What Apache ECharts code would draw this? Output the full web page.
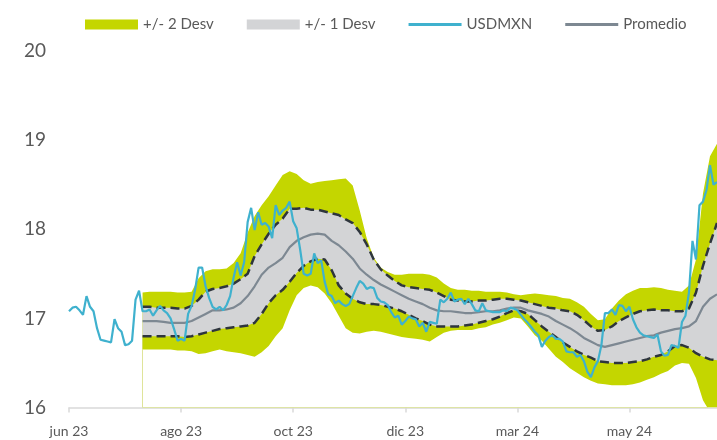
<!DOCTYPE html>
<html><head><meta charset="utf-8">
<script src="https://cdn.jsdelivr.net/npm/echarts@6/dist/echarts.min.js"></script>
<style>html,body{margin:0;padding:0;background:#fff}#c{width:717px;height:440px}</style>
</head><body><div id="c"></div>
<script>
// x positions are trading-day indices; one tick label every 32 days
const tickLabels = ['jun 23', 'ago 23', 'oct 23', 'dic 23', 'mar 24', 'may 24'];
const tickStep = 32;
const lastDay = 185;

// USDMXN daily close (index 0..185)
const usdmxn = [
  17.08,17.12,17.13,17.09,17.04,17.25,17.13,17.08,16.89,16.76,
  16.75,16.74,16.73,16.99,16.89,16.85,16.70,16.71,16.75,17.21,
  17.31,17.08,17.08,17.10,17.03,17.09,17.14,17.09,17.06,17.00,
  16.88,16.75,16.77,16.75,17.05,17.14,17.32,17.57,17.57,17.36,
  17.23,17.13,17.10,17.13,17.09,17.15,17.25,17.46,17.63,17.48,
  17.63,18.08,18.24,17.99,18.19,18.05,18.07,18.03,17.90,18.27,
  18.16,18.21,18.24,18.31,18.09,18.01,17.77,17.50,17.48,17.50,
  17.73,17.62,17.65,17.41,17.27,17.25,17.17,17.20,17.16,17.14,
  17.16,17.25,17.34,17.42,17.39,17.33,17.35,17.34,17.23,17.19,
  17.18,17.15,17.07,17.01,17.03,16.93,16.97,17.02,17.00,16.99,
  16.91,16.95,16.85,16.96,16.95,16.94,17.21,17.18,17.22,17.29,
  17.19,17.21,17.22,17.16,17.22,17.16,17.09,17.08,17.17,17.09,
  17.08,17.07,17.07,17.07,17.09,17.08,17.12,17.11,17.09,17.04,
  16.99,16.95,16.90,16.85,16.81,16.68,16.75,16.79,16.81,16.77,
  16.77,16.74,16.63,16.62,16.62,16.57,16.59,16.52,16.40,16.34,
  16.45,16.52,16.70,17.06,17.06,17.10,17.04,17.15,17.14,17.08,
  17.13,16.99,16.90,16.84,16.81,16.80,16.79,16.78,16.82,16.63,
  16.58,16.59,16.70,16.69,16.67,16.96,17.03,17.29,17.87,17.66,
  18.27,18.31,18.44,18.72,18.50,18.53
];

// Bands: start at day 21, one value every 2 days
const bandStart = 21;
const bandStep = 2;
const mean = [
  16.97,16.97,16.97,16.96,16.95,16.95,16.95,16.97,17.01,17.05,
  17.09,17.09,17.10,17.12,17.17,17.25,17.36,17.49,17.57,17.62,
  17.68,17.80,17.87,17.91,17.94,17.95,17.94,17.87,17.82,17.75,
  17.67,17.56,17.49,17.43,17.38,17.34,17.30,17.26,17.22,17.19,
  17.16,17.12,17.09,17.08,17.08,17.07,17.06,17.06,17.07,17.08,
  17.08,17.09,17.11,17.12,17.12,17.09,17.07,17.05,17.02,16.97,
  16.93,16.89,16.84,16.78,16.74,16.70,16.68,16.70,16.72,16.74,
  16.76,16.78,16.80,16.81,16.84,16.86,16.88,16.89,16.91,16.97,
  17.13,17.22,17.27
];
const upperOne = [
  17.13,17.13,17.12,17.12,17.12,17.11,17.11,17.14,17.21,17.30,
  17.33,17.34,17.36,17.39,17.44,17.50,17.70,17.83,17.95,18.05,
  18.12,18.23,18.23,18.24,18.22,18.22,18.20,18.18,18.16,18.11,
  18.07,17.97,17.83,17.66,17.55,17.48,17.42,17.37,17.35,17.34,
  17.33,17.32,17.29,17.25,17.21,17.20,17.19,17.19,17.20,17.20,
  17.21,17.22,17.22,17.21,17.20,17.18,17.16,17.14,17.12,17.11,
  17.09,17.08,17.04,16.98,16.91,16.86,16.87,16.91,16.97,17.01,
  17.05,17.08,17.09,17.10,17.09,17.09,17.08,17.08,17.11,17.29,
  17.59,17.84,18.07
];
const lowerOne = [
  16.80,16.80,16.80,16.80,16.80,16.80,16.79,16.80,16.82,16.84,
  16.86,16.88,16.89,16.90,16.91,16.92,16.95,17.05,17.17,17.26,
  17.32,17.41,17.51,17.59,17.64,17.67,17.66,17.54,17.37,17.28,
  17.22,17.18,17.16,17.16,17.15,17.13,17.11,17.08,17.04,17.00,
  16.97,16.93,16.91,16.91,16.91,16.91,16.92,16.93,16.95,16.97,
  16.99,17.02,17.06,17.09,17.08,17.05,16.98,16.91,16.85,16.79,
  16.73,16.68,16.63,16.59,16.56,16.52,16.51,16.50,16.50,16.50,
  16.51,16.52,16.54,16.57,16.59,16.63,16.69,16.70,16.67,16.61,
  16.57,16.54,16.53
];
const upperTwo = [
  17.29,17.30,17.30,17.30,17.30,17.29,17.29,17.30,17.45,17.53,
  17.55,17.55,17.56,17.62,17.73,17.96,18.15,18.27,18.37,18.49,
  18.61,18.65,18.62,18.55,18.51,18.53,18.54,18.55,18.56,18.57,
  18.49,18.21,17.90,17.68,17.57,17.52,17.49,17.49,17.50,17.50,
  17.50,17.49,17.46,17.39,17.34,17.32,17.32,17.31,17.31,17.30,
  17.30,17.30,17.29,17.27,17.26,17.27,17.28,17.27,17.26,17.25,
  17.23,17.22,17.18,17.13,17.05,16.98,16.99,17.11,17.20,17.27,
  17.31,17.34,17.34,17.35,17.34,17.32,17.31,17.30,17.37,17.66,
  18.40,18.82,18.96
];
const lowerTwo = [
  16.65,16.65,16.65,16.65,16.65,16.64,16.64,16.63,16.60,16.61,
  16.63,16.65,16.63,16.62,16.61,16.59,16.57,16.62,16.69,16.80,
  16.89,17.09,17.26,17.34,17.37,17.35,17.28,17.17,17.03,16.89,
  16.84,16.83,16.85,16.86,16.85,16.83,16.81,16.79,16.78,16.77,
  16.76,16.74,16.79,16.84,16.86,16.87,16.87,16.87,16.89,16.90,
  16.93,16.95,16.98,17.01,17.00,16.91,16.81,16.75,16.66,16.57,
  16.51,16.44,16.39,16.34,16.30,16.27,16.26,16.25,16.25,16.25,
  16.26,16.28,16.31,16.34,16.38,16.41,16.47,16.50,16.49,16.33,
  16.08,15.95,15.95
];

const yTicks = { min: 16, max: 20, interval: 1 };

const FONT = 'Lato, "Open Sans", sans-serif';
const TXT = '#595959';
const C_Y = '#c4d600', C_G = '#d3d4d6', C_B = '#3fb1ce', C_M = '#7d8892', C_D = '#2e353d';

const bx = i => bandStart + i * bandStep;
const pts = arr => arr.map((v, i) => [bx(i), v]);
const line = usdmxn.map((v, i) => [i, v]);

// layered fills down to the axis: yellow(upper2) > gray(upper1) > yellow(lower1) > white(lower2)
const fill = (name, arr, color) => ({
  type: 'line', name, data: pts(arr), symbol: 'none', silent: true,
  color, itemStyle: { color }, lineStyle: { width: 0, opacity: 0 },
  areaStyle: { color, opacity: 1, origin: 'start' }
});

const lineIcon = 'path://M0,0H53V3H0Z';

const chart = echarts.init(document.getElementById('c'), null, { renderer: 'canvas' });
chart.setOption({
  animation: false,
  backgroundColor: '#ffffff',
  grid: { left: 69, right: 0, top: 51, bottom: 32.5, containLabel: false },
  legend: {
    left: 80, top: 12, itemWidth: 53, itemHeight: 10, itemGap: 33,
    textStyle: { fontFamily: FONT, fontSize: 15, color: TXT },
    data: [
      { name: '+/- 2 Desv', icon: 'rect' },
      { name: '+/- 1 Desv', icon: 'rect' },
      { name: 'USDMXN', icon: lineIcon },
      { name: 'Promedio', icon: lineIcon }
    ]
  },
  xAxis: {
    type: 'value', min: 0, max: lastDay, interval: tickStep,
    splitLine: { show: false },
    axisLine: { show: true, lineStyle: { color: '#d9d9d9', width: 1.5 } },
    axisTick: { show: true, length: 5, lineStyle: { color: '#d9d9d9', width: 1.5 } },
    axisLabel: {
      showMaxLabel: false, margin: 17,
      fontFamily: FONT, fontSize: 14, color: TXT,
      formatter: v => (v % tickStep === 0 && tickLabels[v / tickStep]) || ''
    }
  },
  yAxis: {
    type: 'value', min: yTicks.min, max: yTicks.max, interval: yTicks.interval,
    splitLine: { show: false },
    axisLine: { show: false }, axisTick: { show: false },
    axisLabel: { margin: 23, fontFamily: FONT, fontSize: 19, color: TXT }
  },
  series: [
    fill('+/- 2 Desv', upperTwo, C_Y),
    fill('+/- 1 Desv', upperOne, C_G),
    fill('inner2', lowerOne, C_Y),
    fill('outside', lowerTwo, '#ffffff'),
    { type: 'line', name: 'sup1', data: pts(upperOne), symbol: 'none', silent: true,
      lineStyle: { color: C_D, width: 2.5, type: [9, 5] } },
    { type: 'line', name: 'inf1', data: pts(lowerOne), symbol: 'none', silent: true,
      lineStyle: { color: C_D, width: 2.5, type: [9, 5] } },
    { type: 'line', name: 'Promedio', data: pts(mean), symbol: 'none', color: C_M,
      itemStyle: { color: C_M }, lineStyle: { color: C_M, width: 2.2 },
      markLine: { silent: true, symbol: 'none', label: { show: false },
        lineStyle: { color: '#dfe49a', width: 1, type: 'solid' },
        data: [[{ coord: [bandStart, yTicks.min] }, { coord: [bandStart, lowerTwo[0]] }]] } },
    { type: 'line', name: 'USDMXN', data: line, symbol: 'none', color: C_B,
      itemStyle: { color: C_B }, lineStyle: { color: C_B, width: 2.2 } }
  ]
});
</script></body></html>
